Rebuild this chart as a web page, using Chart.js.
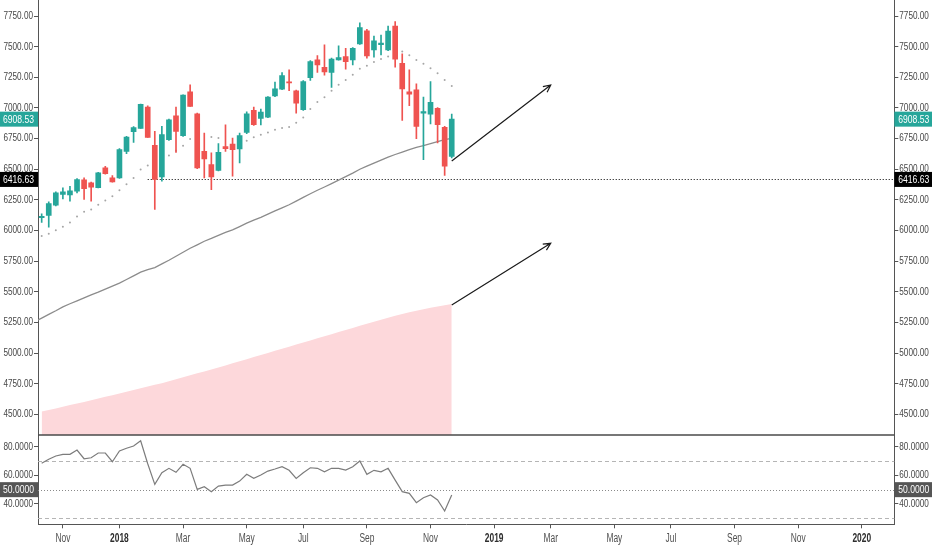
<!DOCTYPE html>
<html>
<head>
<meta charset="utf-8">
<script src="https://cdn.jsdelivr.net/npm/chart.js@4.4.0/dist/chart.umd.min.js"></script>
<style>
  html, body { margin: 0; padding: 0; background: #fff; }
  #wrap { position: relative; width: 932px; height: 550px; }
</style>
</head>
<body>
<div id="wrap"><canvas id="chart"></canvas></div>
<script>
// weekly candles, bar 0 = week of 16 Oct 2017
const openPrices = [6105, 6123, 6207, 6294, 6290, 6321, 6413, 6389, 6350, 6511, 6429, 6429, 6646, 6806, 6833, 7007, 6695, 6437, 6741, 6936,
  6774, 7132, 6953, 6646, 6538, 6491, 6684, 6706, 6665, 6800, 6980, 6914, 6925, 7099, 7154, 7212, 7140, 6985, 7248, 7392,
  7332, 7289, 7392, 7419, 7392, 7522, 7630, 7473, 7516, 7473, 7669, 7365, 7132, 7148, 6958, 6950, 6996, 6841, 6605];
const highPrices = [6135, 6234, 6315, 6348, 6361, 6424, 6429, 6394, 6475, 6524, 6448, 6668, 6768, 6847, 7031, 7018, 6809, 6850, 6909, 7007,
  7107, 7189, 6958, 6795, 6633, 6709, 6863, 6755, 6795, 6969, 7007, 6991, 7093, 7211, 7289, 7311, 7145, 7223, 7386, 7427,
  7516, 7406, 7506, 7487, 7492, 7695, 7642, 7587, 7595, 7669, 7704, 7441, 7311, 7197, 7088, 7215, 7004, 6849, 6950];
const lowPrices = [6065, 6028, 6200, 6258, 6240, 6307, 6253, 6239, 6348, 6460, 6394, 6424, 6627, 6719, 6833, 6760, 6171, 6402, 6736, 6638,
  6768, 7012, 6505, 6429, 6334, 6486, 6646, 6443, 6551, 6790, 6858, 6861, 6920, 7093, 7150, 7140, 6958, 6980, 7224, 7289,
  7267, 7167, 7390, 7316, 7351, 7519, 7406, 7414, 7433, 7468, 7333, 6898, 7018, 6749, 6578, 6869, 6714, 6450, 6592];
const closePrices = [6115, 6220, 6307, 6315, 6323, 6416, 6342, 6353, 6470, 6464, 6397, 6660, 6763, 6839, 7029, 6760, 6416.63, 6782, 6904, 6809,
  7105, 7012, 6510, 6584, 6437, 6638, 6668, 6660, 6774, 6953, 6863, 6966, 7088, 7156, 7264, 7205, 7040, 7215, 7378, 7351,
  7294, 7398, 7411, 7378, 7487, 7655, 7425, 7547, 7530, 7628, 7398, 7156, 7113, 6849, 6971, 7045, 6863, 6524, 6908.53];

// moving average, first value is bar -1
const maStart = -1;
const maValues = [5255, 5285, 5315, 5345, 5377, 5402, 5426, 5450, 5474, 5497, 5522, 5546, 5570, 5600, 5630, 5660, 5680, 5697, 5727, 5757,
  5790, 5822, 5855, 5883, 5912, 5935, 5960, 5985, 6005, 6032, 6060, 6085, 6107, 6133, 6160, 6185, 6210, 6240, 6270, 6300,
  6328, 6355, 6383, 6411, 6440, 6468, 6500, 6525, 6550, 6574, 6598, 6620, 6640, 6660, 6678, 6692, 6708, 6725, 6742, 6752];

// parabolic SAR dots (null = not visible)
const sarValues = [5954, 5974, 6001, 6031, 6066, 6115, 6153, 6171, 6210, 6245, 6280, 6329, 6377, 6429, 6497, 6530, null, null, 6611, 6650,
  6692, 6747, null, null, 6763, 6755, null, null, null, 6733, 6760, 6782, 6800, 6822, 6836, 6844, 6880, 6922, 6991, 7048,
  7088, 7140, 7189, 7229, 7270, 7319, 7345, 7375, 7400, 7420, null, 7460, 7430, 7392, 7360, 7324, 7284, 7229, 7180];

// pink area
const areaValues = [4522, 4535, 4548, 4561, 4575, 4588, 4601, 4614, 4628, 4642, 4656, 4670, 4684, 4698, 4712, 4726, 4740, 4754, 4770, 4786,
  4802, 4818, 4834, 4850, 4866, 4882, 4899, 4916, 4933, 4950, 4967, 4984, 5001, 5018, 5035, 5052, 5069, 5086, 5103, 5120,
  5137, 5154, 5171, 5188, 5205, 5222, 5239, 5256, 5272, 5288, 5304, 5318, 5332, 5345, 5357, 5369, 5380, 5390, 5399];

// RSI
const rsiValues = [68.4, 71.2, 73.5, 74.7, 74.7, 77.7, 71.6, 72.3, 75.6, 75.6, 69.5, 77, 78.9, 80.5, 84.2, 68.1, 53.7, 61.8, 64.9, 62.1,
  67.7, 64.9, 50.2, 52.1, 48.6, 52.5, 53.2, 53.2, 56, 60.7, 57.9, 60.2, 63, 64.4, 66, 63.5, 57.9, 61.8, 65.3, 64.9,
  62.5, 64.9, 64.9, 63.7, 66, 70, 60.7, 63.5, 62.5, 64.9, 56.7, 48.6, 47.4, 40.9, 44.4, 46.3, 42.8, 35.1, 46.3];

const monthTickBars = [3, 11, 20, 29, 37, 46, 55, 64, 72, 81, 89, 98, 107, 116];
const monthLabels = ['Nov', '2018', 'Mar', 'May', 'Jul', 'Sep', 'Nov', '2019', 'Mar', 'May', 'Jul', 'Sep', 'Nov', '2020'];
const priceTicks = [4500, 4750, 5000, 5250, 5500, 5750, 6000, 6250, 6500, 6750, 7000, 7250, 7500, 7750];
const rsiTicks = [40, 60, 80];

const levelPrice = 6416.63;
const levelStartBar = 15;
const rsiUpper = 70, rsiMid = 50, rsiLower = 30;
const arrowFrom = [[58, 6567], [58, 5392]];
const arrowTo = [[72, 7187], [72, 5895]];

const UP = '#26a69a', DOWN = '#ef5350';
const FONT = "'Liberation Sans', Arial, sans-serif";
const candleColors = closePrices.map((c, i) => c >= openPrices[i] ? UP : DOWN);

// squeezed text, the labels in the reference are narrow
function squeezed(ctx, text, x, y, align, font, color, sx) {
  ctx.save();
  ctx.translate(x, y);
  ctx.scale(sx, 1);
  ctx.font = font;
  ctx.fillStyle = color;
  ctx.textAlign = align;
  ctx.textBaseline = 'middle';
  ctx.fillText(text, 0, 0);
  ctx.restore();
}

// pane lines + level line behind the candles
const guideLines = {
  id: 'guideLines',
  beforeDatasetsDraw(chart) {
    const { ctx, chartArea, scales } = chart;
    ctx.save();
    ctx.lineWidth = 1;
    ctx.strokeStyle = '#b5b5b5';
    ctx.setLineDash([4, 3]);
    [rsiUpper, rsiLower].forEach(v => {
      const y = Math.round(scales.yRsi.getPixelForValue(v)) + 0.5;
      ctx.beginPath(); ctx.moveTo(chartArea.left, y); ctx.lineTo(chartArea.right, y); ctx.stroke();
    });
    ctx.strokeStyle = '#8a8a8a';
    ctx.setLineDash([1, 2]);
    let y = Math.round(scales.yRsi.getPixelForValue(rsiMid)) + 0.5;
    ctx.beginPath(); ctx.moveTo(chartArea.left, y); ctx.lineTo(chartArea.right, y); ctx.stroke();
    ctx.strokeStyle = '#000';
    y = Math.round(scales.y.getPixelForValue(levelPrice)) + 0.5;
    ctx.beginPath(); ctx.moveTo(scales.x.getPixelForValue(levelStartBar), y); ctx.lineTo(chartArea.right, y); ctx.stroke();
    ctx.restore();
  },
  afterDatasetsDraw(chart) {
    const { ctx, chartArea, scales } = chart;
    ctx.save();
    // pane separator
    ctx.strokeStyle = '#4a4a4a';
    ctx.lineWidth = 1.5;
    const y = scales.y.bottom;
    ctx.beginPath(); ctx.moveTo(chartArea.left, y); ctx.lineTo(chartArea.right, y); ctx.stroke();
    // arrows
    ctx.strokeStyle = '#1a1a1a';
    ctx.lineWidth = 1.2;
    arrowFrom.forEach((p, i) => {
      const x0 = scales.x.getPixelForValue(p[0]), y0 = scales.y.getPixelForValue(p[1]);
      const x1 = scales.x.getPixelForValue(arrowTo[i][0]), y1 = scales.y.getPixelForValue(arrowTo[i][1]);
      const a = Math.atan2(y1 - y0, x1 - x0);
      ctx.beginPath();
      ctx.moveTo(x0, y0); ctx.lineTo(x1, y1);
      ctx.moveTo(x1 - 8 * Math.cos(a - 0.45), y1 - 8 * Math.sin(a - 0.45));
      ctx.lineTo(x1, y1);
      ctx.lineTo(x1 - 8 * Math.cos(a + 0.45), y1 - 8 * Math.sin(a + 0.45));
      ctx.stroke();
    });
    ctx.restore();
  }
};

// tick labels drawn narrow
const axisText = {
  id: 'axisText',
  afterDraw(chart) {
    const { ctx, scales, chartArea } = chart;
    const yFont = '10.5px ' + FONT;
    [[scales.y, 2], [scales.yRsi, 4]].forEach(([sc, dec]) => {
      sc.ticks.forEach(t => {
        const y = sc.getPixelForValue(t.value);
        const s = t.value.toFixed(dec);
        squeezed(ctx, s, chartArea.left - 5, y, 'right', yFont, '#474747', 0.78);
        squeezed(ctx, s, chartArea.right + 5, y, 'left', yFont, '#474747', 0.78);
      });
    });
    scales.x.ticks.forEach((t, i) => {
      const year = /^\d{4}$/.test(monthLabels[i]);
      squeezed(ctx, monthLabels[i], scales.x.getPixelForValue(t.value), 538.5, 'center',
        (year ? 'bold ' : '') + '12px ' + FONT, year ? '#2e2e2e' : '#505050', 0.7);
    });
  }
};

// value labels on both price axes
const axisBoxes = {
  id: 'axisBoxes',
  afterDraw(chart) {
    const { ctx, chartArea, scales, width } = chart;
    const last = closePrices[closePrices.length - 1];
    const boxes = [
      { scale: scales.y, value: last, text: last.toFixed(2), bg: UP },
      { scale: scales.y, value: levelPrice, text: levelPrice.toFixed(2), bg: '#000' },
      { scale: scales.yRsi, value: rsiMid, text: rsiMid.toFixed(4), bg: '#555' }
    ];
    boxes.forEach(b => {
      const y = b.scale.getPixelForValue(b.value);
      ctx.fillStyle = b.bg;
      ctx.fillRect(0, y - 7.5, chartArea.left, 15);
      ctx.fillRect(chartArea.right, y - 7.5, width - chartArea.right, 15);
      squeezed(ctx, b.text, 3, y + 0.5, 'left', '11px ' + FONT, '#fff', 0.78);
      squeezed(ctx, b.text, chartArea.right + 4, y + 0.5, 'left', '11px ' + FONT, '#fff', 0.78);
    });
  }
};

const xy = arr => arr.map((v, i) => ({ x: i, y: v }));

function noPad(axis) {
  axis.paddingTop = 0; axis.paddingBottom = 0; axis.paddingLeft = 0; axis.paddingRight = 0;
}
function priceAxis(position, weight) {
  return {
    type: 'linear', axis: 'y', position: position, stack: position, stackWeight: 4.87, weight: weight,
    min: 4331, max: 7881,
    grid: { drawOnChartArea: false, tickLength: 4, color: '#555' },
    border: { color: '#555' },
    afterBuildTicks(axis) { axis.ticks = priceTicks.map(v => ({ value: v })); },
    afterFit(axis) { axis.width = position === 'left' ? 38 : 37.7; noPad(axis); },
    ticks: { display: false }
  };
}
function rsiAxis(position, weight) {
  return {
    type: 'linear', axis: 'y', position: position, stack: position, stackWeight: 1, weight: weight,
    min: 25.8, max: 88.2,
    grid: { drawOnChartArea: false, tickLength: 4, color: '#555' },
    border: { color: '#555' },
    afterBuildTicks(axis) { axis.ticks = rsiTicks.map(v => ({ value: v })); },
    afterFit(axis) { axis.width = position === 'left' ? 38 : 37.7; noPad(axis); },
    ticks: { display: false }
  };
}

new Chart(document.getElementById('chart'), {
  type: 'bar',
  data: {
    datasets: [
      {
        type: 'bar', label: 'bodies', yAxisID: 'y', order: 2, grouped: false,
        data: openPrices.map((o, i) => ({ x: i, y: [o, closePrices[i]] })),
        backgroundColor: candleColors, barThickness: 5, minBarLength: 1
      },
      {
        type: 'bar', label: 'wicks', yAxisID: 'y', order: 3, grouped: false,
        data: lowPrices.map((l, i) => ({ x: i, y: [l, highPrices[i]] })),
        backgroundColor: candleColors, barThickness: 1
      },
      {
        type: 'line', label: 'SAR', yAxisID: 'y', order: 4,
        data: xy(sarValues), showLine: false,
        pointRadius: 1, pointBackgroundColor: '#a6a6a6', pointBorderWidth: 0
      },
      {
        type: 'line', label: 'MA', yAxisID: 'y', order: 5,
        data: maValues.map((v, i) => ({ x: i + maStart, y: v })),
        borderColor: '#8c8c8c', borderWidth: 1.3, pointRadius: 0, tension: 0
      },
      {
        type: 'line', label: 'area', yAxisID: 'y', order: 10,
        data: xy(areaValues), fill: 'start',
        backgroundColor: '#fdd8db', borderWidth: 0, pointRadius: 0
      },
      {
        type: 'line', label: 'RSI', yAxisID: 'yRsi', order: 1,
        data: xy(rsiValues),
        borderColor: '#7c7c7c', borderWidth: 1.2, pointRadius: 0, tension: 0
      }
    ]
  },
  options: {
    responsive: true, maintainAspectRatio: false, animation: false,
    layout: { padding: 0, autoPadding: false },
    plugins: { legend: { display: false }, tooltip: { enabled: false } },
    scales: {
      x: {
        type: 'linear', min: -0.52, max: 120.6, offset: false,
        grid: { drawOnChartArea: false, offset: false, tickLength: 4, color: '#555' },
        border: { color: '#555' },
        afterBuildTicks(axis) { axis.ticks = monthTickBars.map(v => ({ value: v })); },
        afterFit(axis) { axis.height = 25.7; noPad(axis); },
        ticks: { display: false }
      },
      y: priceAxis('left', 1),
      yRsi: rsiAxis('left', 0),
      yR: priceAxis('right', 0),
      yRsiR: rsiAxis('right', 1)
    }
  },
  plugins: [guideLines, axisText, axisBoxes]
});
</script>
</body>
</html>
